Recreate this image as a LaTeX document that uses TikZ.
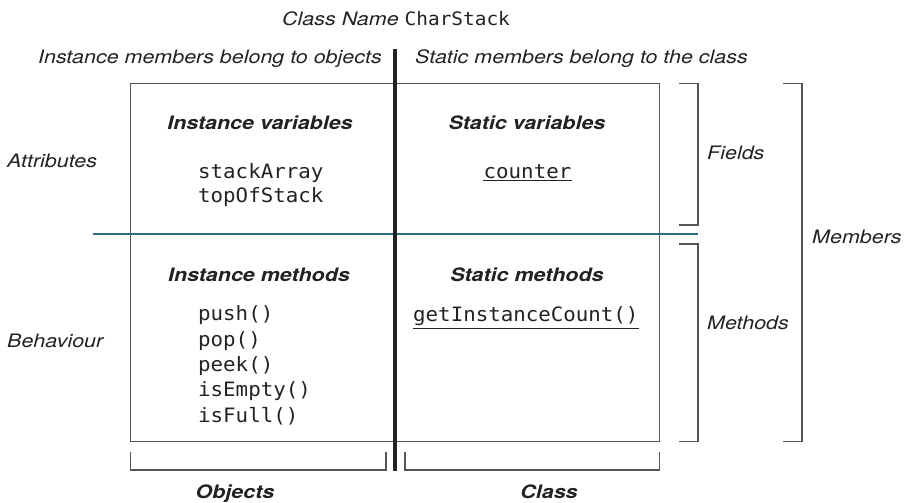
\documentclass[tikz,border=0pt]{standalone}
\usepackage{fontspec}
\setmainfont{TeX Gyre Heros}[FakeStretch=1.16]
\setmonofont{DejaVu Sans Mono}[FakeStretch=1.05]
\definecolor{txt}{HTML}{222222}
\definecolor{frm}{HTML}{555555}
\definecolor{teal}{HTML}{2B6E82}
\begin{document}
\begin{tikzpicture}[x=1pt,y=-1pt,
  lbl/.style={font=\itshape\fontsize{18.5}{22}\selectfont, text=txt, inner sep=0pt, anchor=base},
  head/.style={font=\bfseries\itshape\fontsize{18.5}{22}\selectfont, text=txt, inner sep=0pt, anchor=base},
  code/.style={font=\ttfamily\fontsize{19.8}{24}\selectfont, text=txt, inner sep=0pt, anchor=base west},
  frame/.style={draw=frm, line width=1.3pt},
  brack/.style={draw=frm, line width=1.3pt},
  divider/.style={draw=txt, line width=4.3pt},
  tealline/.style={draw=teal, line width=1.3pt},
  uline/.style={draw=txt, line width=1.1pt}]
\useasboundingbox (0,0) rectangle (910,503);

% main box
\coordinate (tl) at (130.7,83.3);
\coordinate (br) at (659.5,441.7);
\draw[frame] (tl) rectangle (br);

% teal separator
\coordinate (t1) at (93,234);
\coordinate (t2) at (698,234);
\draw[tealline] (t1) -- (t2);

% thick divider
\coordinate (d1) at (395,49);
\coordinate (d2) at (395,471);
\draw[divider] (d1) -- (d2);

% brackets
\draw[brack] (130.7,452) -- (130.7,470) -- (386,470) -- (386,452);
\draw[brack] (405,452) -- (405,470) -- (659.5,470) -- (659.5,452);
\draw[brack] (679,83.3) -- (698,83.3) -- (698,225) -- (679,225);
\draw[brack] (679,244) -- (698,244) -- (698,441.7) -- (679,441.7);
\draw[brack] (783,83.3) -- (802,83.3) -- (802,441.7) -- (783,441.7);

% title
\node[lbl, anchor=base west] (title) at (282,26) {Class Name \texttt{\upshape CharStack}};
\node[lbl, anchor=base east] (inst) at (382,63.3) {Instance members belong to objects};
\node[lbl, anchor=base west] (stat) at (415,63.3) {Static members belong to the class};

% side labels
\node[lbl, anchor=base west] (attr) at (7,167.7) {Attributes};
\node[lbl, anchor=base west] (beh) at (7,347.7) {Behaviour};
\node[lbl, anchor=base west] (fields) at (707,159) {Fields};
\node[lbl, anchor=base west] (members) at (812,243.3) {Members};
\node[lbl, anchor=base west] (methods) at (707,329) {Methods};

% headings
\node[head] (iv) at (260,129.3) {Instance variables};
\node[head] (sv) at (527,129.3) {Static variables};
\node[head] (im) at (259,281.7) {Instance methods};
\node[head] (sm) at (527,281.7) {Static methods};
\node[head] (objs) at (235,498.3) {Objects};
\node[head] (cls) at (549,498.3) {Class};

% code
\node[code] (sa) at (198,178.3) {stackArray};
\node[code] (tos) at (198,202.7) {topOfStack};
\node[code, anchor=base] (cnt) at (527.5,178.3) {counter};
\draw[uline] ([yshift=-2.6pt]cnt.base west) -- ([yshift=-2.6pt]cnt.base east);

\node[code] (push) at (198,320) {push()};
\node[code] (pop) at (198,346) {pop()};
\node[code] (peek) at (198,371.7) {peek()};
\node[code] (empty) at (198,396.7) {isEmpty()};
\node[code] (full) at (198,422.3) {isFull()};

\node[code] (gic) at (413,321) {getInstanceCount()};
\draw[uline] ([yshift=-7.3pt]gic.base west) -- ([yshift=-7.3pt]gic.base east);
\end{tikzpicture}
\end{document}
